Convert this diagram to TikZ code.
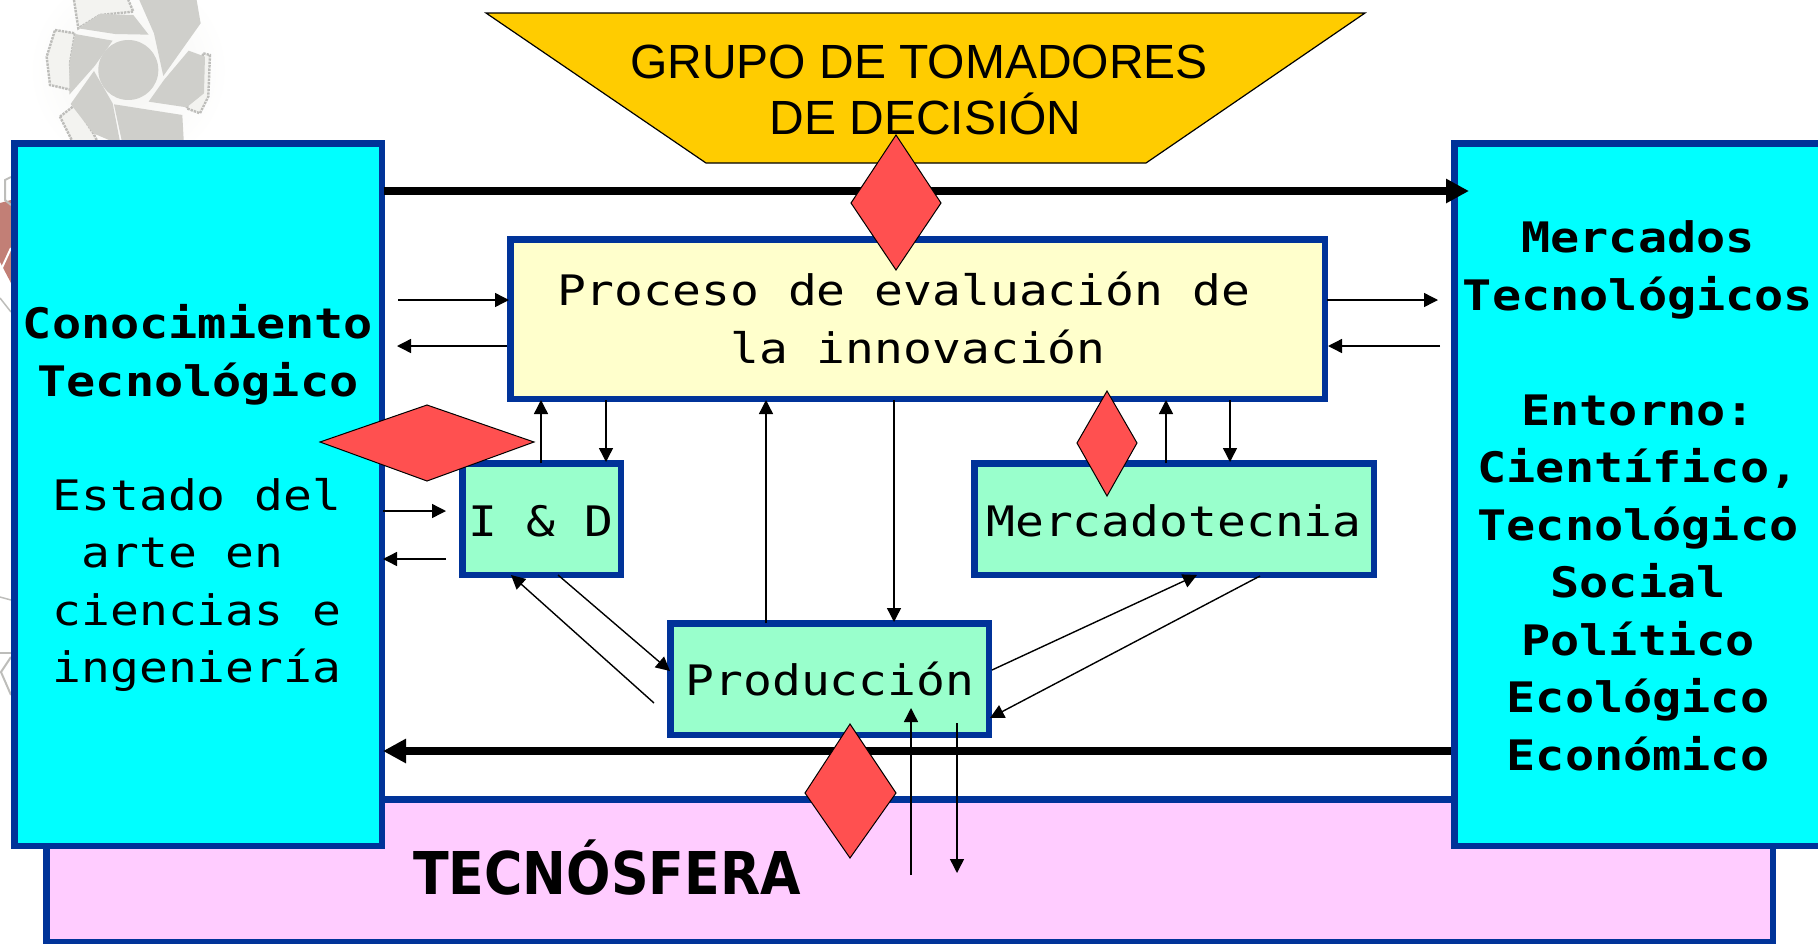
\documentclass[tikz,border=0pt]{standalone}
\usepackage{fontspec}
\setmainfont{Liberation Sans}
\newfontfamily\monof[FakeStretch=1.142]{DejaVu Sans Mono}
\newfontfamily\monobf[FakeStretch=1.154]{DejaVu Sans Mono Bold}
\newfontfamily\tecnof{DejaVu Sans Bold}
\usetikzlibrary{arrows.meta}
\definecolor{bordb}{HTML}{003399}
\definecolor{cyanf}{HTML}{00FFFF}
\definecolor{mint}{HTML}{99FFCC}
\definecolor{creamf}{HTML}{FFFFCC}
\definecolor{pinkf}{HTML}{FFCCFF}
\definecolor{goldf}{HTML}{FFCC00}
\definecolor{redf}{HTML}{FF5050}
\definecolor{wm}{HTML}{CFCFCB}
\definecolor{wmlight}{HTML}{F3F3F0}
\definecolor{wmred}{HTML}{C27F76}
\definecolor{wmedge}{HTML}{BDBDBA}
\tikzset{
 x=1pt,y=-1pt,
 box/.style={draw=bordb,line width=6.5pt,anchor=north west,inner sep=0pt},
 dia/.style={draw=black,fill=redf,line width=1pt},
 thin arrow/.style={draw=black,line width=1.4pt,-{Triangle[length=14pt,width=14pt]}},
 fat arrow/.style={draw=black,line width=8pt,-{Triangle[length=23pt,width=23pt]}},
 mono/.style={font=\monof\fontsize{42}{57.5}\selectfont,align=center,inner sep=0pt,text=black},
 monob/.style={font=\monobf\fontsize{42}{57.5}\selectfont,align=center,inner sep=0pt,text=black},
 blade/.style={fill=wm,draw=none},
 flap/.style={draw=wmedge,fill=wmlight,line width=2.4pt,densely dotted},
}
\begin{document}
\begin{tikzpicture}
\useasboundingbox (0,0) rectangle (1818,943);
\clip (0,0) rectangle (1818,943);
% watermark
\begin{scope}[x=.3333pt,y=-.3333pt]
\shade[inner color=wmlight,outer color=white] (385,210) circle[radius=300];
\draw[flap] (165,90) -- (225,100) -- (210,190) -- (215,270) -- (150,255) -- (140,170) -- cycle;
\draw[flap] (222,0) -- (235,85) -- (300,45) -- (400,35) -- (385,0);
\draw[flap] (180,350) -- (225,315) -- (280,400) -- (300,440) -- (220,430) -- cycle;
\draw[flap] (610,160) -- (630,165) -- (625,290) -- (600,340) -- (560,325) -- cycle;
\fill[blade] (418,0) -- (590,0) -- (602,70) -- (490,228) -- (462,100) -- cycle;
\fill[blade] (566,152) -- (615,170) -- (612,280) -- (560,322) -- (446,305) -- (492,240) -- cycle;
\fill[blade] (342,313) -- (547,345) -- (552,435) -- (368,435) -- cycle;
\fill[blade] (282,213) -- (338,310) -- (362,435) -- (280,400) -- (212,312) -- cycle;
\fill[blade] (225,102) -- (338,122) -- (284,198) -- (208,284) -- (208,190) -- cycle;
\fill[blade] (235,85) -- (300,42) -- (400,45) -- (446,104) -- (345,102) -- cycle;
\fill[wm] (385,210) circle[radius=90];
\end{scope}
\fill[wmred] (0,203) -- (11,200) -- (11,283) -- (0,262) -- cycle;
\draw[draw=white,line width=2pt] (0,272) -- (11,248);
\draw[draw=wmedge,line width=2pt] (11,177) -- (5,180) -- (5,200) -- (11,205);
\draw[draw=wmedge,line width=1.5pt] (0,298) -- (11,312);
\draw[draw=wmedge,line width=1.5pt] (0,597) -- (11,600);
\draw[draw=wmedge,line width=1.5pt] (0,653) -- (11,653);
\draw[draw=wmedge,line width=2pt] (11,657) -- (1,672) -- (11,695);
% pink
\node[box,fill=pinkf,minimum width=1726.5pt,minimum height=142.5pt] (tecno) at (43,796) {};
\node[font=\tecnof\fontsize{59}{62}\selectfont,inner sep=0pt,xscale=.886,transform shape] (tl) at (607,868) {TECNÓSFERA};
% side boxes
\node[box,fill=cyanf,minimum width=367.5pt,minimum height=702.5pt] (left) at (11,140) {};
\node[box,fill=cyanf,minimum width=380pt,minimum height=702.5pt] (right) at (1451,140) {};
% gold
\draw[fill=goldf,draw=black,line width=1.2pt] (486,13) -- (1365,13) -- (1146,163) -- (706,163) -- cycle;
\node[font=\fontsize{48}{56}\selectfont,align=center,inner sep=0pt] (gold) at (919,90) {GRUPO DE TOMADORES\\\phantom{I}DE DECISIÓN};
% inner boxes
\node[box,fill=creamf,minimum width=814.5pt,minimum height=159.5pt] (eval) at (507,236) {};
\node[mono] (evalt) at (918,318) {Proceso de evaluación de\phantom{x}\\la innovación};
\node[box,fill=mint,minimum width=158.5pt,minimum height=111.5pt] (id) at (459,460) {};
\node[mono] (idt) at (541,521) {I \& D};
\node[box,fill=mint,minimum width=399.5pt,minimum height=111.5pt] (mer) at (971,460) {};
\node[mono] (mert) at (1174,521) {Mercadotecnia};
\node[box,fill=mint,minimum width=318.5pt,minimum height=111.5pt] (pro) at (667,620) {};
\node[mono] (prot) at (830,679) {Producción};
% side text
\node[monob] (lt1) at (198,355) {Conocimiento\\Tecnológico};
\node[mono] (lt2) at (197,585) {Estado del\\arte en\phantom{x}\\ciencias e\\ingeniería};
\node[monob] (rt) at (1638,496) {Mercados\\Tecnológicos\\[57.5pt]Entorno:\\Científico,\\Tecnológico\\Social\\Político\\Ecológico\\Económico};
% fat arrows
\coordinate (f1) at (384,191);
\coordinate (f2) at (1469,191);
\coordinate (f3) at (1451,751);
\coordinate (f4) at (383,751);
\draw[fat arrow] (f1) -- (f2);
\draw[fat arrow] (f3) -- (f4);
% thin arrows
\coordinate (a1) at (398,300); \coordinate (a2) at (509,300);
\coordinate (a3) at (507,346); \coordinate (a4) at (397,346);
\draw[thin arrow] (a1) -- (a2);
\draw[thin arrow] (a3) -- (a4);
\coordinate (b1) at (1327,300); \coordinate (b2) at (1438,300);
\coordinate (b3) at (1440,346); \coordinate (b4) at (1328,346);
\draw[thin arrow] (b1) -- (b2);
\draw[thin arrow] (b3) -- (b4);
\coordinate (c1) at (383,511); \coordinate (c2) at (446,511);
\coordinate (c3) at (446,559); \coordinate (c4) at (383,559);
\draw[thin arrow] (c1) -- (c2);
\draw[thin arrow] (c3) -- (c4);
% diamonds
\draw[dia] (427,405) -- (534,442) -- (427,481) -- (320,442) -- cycle;
\coordinate (d1) at (541,463); \coordinate (d2) at (541,400);
\coordinate (d3) at (606,400); \coordinate (d4) at (606,462);
\draw[thin arrow] (d1) -- (d2);
\draw[thin arrow] (d3) -- (d4);
\coordinate (e1) at (766,623); \coordinate (e2) at (766,400);
\coordinate (e3) at (894,400); \coordinate (e4) at (894,622);
\draw[thin arrow] (e1) -- (e2);
\draw[thin arrow] (e3) -- (e4);
\coordinate (g1) at (1166,463); \coordinate (g2) at (1166,400);
\coordinate (g3) at (1230,400); \coordinate (g4) at (1230,462);
\draw[thin arrow] (g1) -- (g2);
\draw[thin arrow] (g3) -- (g4);
\coordinate (h1) at (558,575); \coordinate (h2) at (670,671);
\coordinate (h3) at (654,703); \coordinate (h4) at (511,575);
\draw[thin arrow] (h1) -- (h2);
\draw[thin arrow] (h3) -- (h4);
\coordinate (i1) at (992,670); \coordinate (i2) at (1197,575);
\coordinate (i3) at (1260,576); \coordinate (i4) at (990,718);
\draw[thin arrow] (i1) -- (i2);
\draw[thin arrow] (i3) -- (i4);
\coordinate (j1) at (911,875); \coordinate (j2) at (911,708);
\coordinate (j3) at (957,723); \coordinate (j4) at (957,873);
\draw[thin arrow] (j1) -- (j2);
\draw[thin arrow] (j3) -- (j4);
\draw[dia] (896,135) -- (941,203) -- (896,270) -- (851,203) -- cycle;
\draw[dia] (1107,391) -- (1137,443) -- (1107,496) -- (1077,443) -- cycle;
\draw[dia] (850,724) -- (896,793) -- (850,858) -- (805,793) -- cycle;
\end{tikzpicture}
\end{document}
